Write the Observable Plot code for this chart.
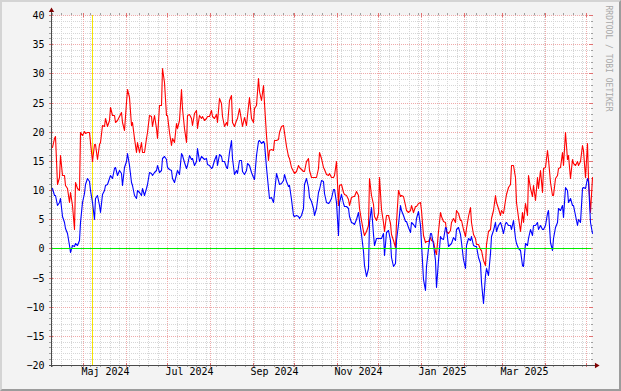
<!DOCTYPE html>
<html><head><meta charset="utf-8">
<script src="https://cdn.jsdelivr.net/npm/d3@7"></script>
<script src="https://cdn.jsdelivr.net/npm/@observablehq/plot@0.6"></script>
<style>
html,body{margin:0;padding:0;background:#f3f3f3;overflow:hidden}
#wrap{width:617px;height:387px;border-style:solid;border-width:2px;border-color:#d4d4d4 #9c9c9c #9c9c9c #d4d4d4;background:#f3f3f3}
#wrap svg{display:block}
</style></head><body><div id="wrap"></div>
<script>
// readings: one sample every ~29.1 h starting at firstSample
const firstSample = "2024-04-08T05:30:00Z";
const sampleStepHours = 29.1;

const maxTemp = [
17.4,18.9,19.2,11.0,12.3,16.0,12.6,12.6,10.9,10.3,
8.0,9.7,7.4,3.4,11.4,10.3,10.0,20.0,19.4,20.1,
19.7,20.0,20.0,18.3,14.9,17.9,17.9,15.4,17.9,18.3,
21.1,20.9,22.3,20.9,22.0,24.3,22.9,22.9,21.7,22.0,
22.6,23.4,21.7,20.3,25.1,27.4,26.0,21.1,21.7,18.9,
16.6,18.3,16.6,18.3,16.6,16.6,18.9,20.0,22.9,22.6,
20.9,22.9,20.6,18.9,24.6,
24.5,31.0,28.5,22.9,22.9,20.0,17.7,18.9,18.3,21.5,
20.6,22.0,27.4,24.0,20.6,18.3,22.9,23.0,22.3,21.1,
23.2,23.7,20.6,22.9,22.3,22.6,22.0,22.3,22.6,22.6,
23.7,22.6,22.3,23.0,21.7,25.7,25.0,22.7,20.9,21.7,
21.1,25.5,26.3,21.7,20.9,22.0,22.3,24.0,22.0,20.9,
22.5,21.1,22.9,26.0,22.3,21.7,24.0,24.5,29.2,26.9,
25.5,28.0,25.0,19.5,15.1,16.9,17.0,16.9,
18.5,18.6,18.8,20.0,21.0,21.2,20.0,17.5,15.8,15.5,
14.0,13.3,13.0,13.2,14.2,14.0,13.6,13.2,13.3,15.0,
15.5,13.5,12.3,12.3,12.2,12.3,13.8,16.5,15.5,14.0,
13.6,12.8,12.5,12.9,12.3,12.2,12.5,14.9,7.4,10.9,
11.0,9.6,9.4,9.2,8.5,7.5,8.8,8.9,9.0,9.8,
9.2,7.0,4.8,2.9,2.3,3.0,4.0,12.0,9.1,7.6,
5.5,4.8,6.0,12.3,6.8,4.5,3.0,
5.8,5.8,4.4,2.5,1.5,0.3,4.5,10.0,9.0,9.2,
8.9,7.5,6.5,6.2,6.5,7.4,6.3,7.3,7.2,7.8,
8.0,6.5,2.3,1.1,1.3,1.3,1.9,1.5,1.3,-0.4,
-0.9,3.0,6.3,5.5,4.7,4.6,3.0,2.6,3.2,4.5,
5.2,4.6,6.6,6.0,4.9,4.9,3.4,2.2,3.5,5.5,
7.1,4.6,2.5,1.8,0.7,0.8,-0.2,-0.3,-2.0,-2.9,
0.8,2.9,3.4,5.2,6.6,
9.1,8.0,6.9,5.7,6.6,6.0,8.3,9.4,10.6,11.1,
14.3,14.3,12.3,8.0,5.4,2.9,6.3,4.6,7.7,5.7,
12.6,10.3,8.9,10.9,8.3,12.3,10.3,13.4,9.7,13.7,
14.0,16.9,15.4,11.4,9.1,9.1,12.0,12.6,13.7,14.0,
16.6,14.3,20.0,15.4,16.0,12.0,15.4,14.6,14.3,14.9,
14.3,14.9,17.7,16.9,12.3,18.0,12.0,6.3,12.3
];

const minTemp = [
10.3,9.1,9.1,7.4,8.0,8.6,5.6,4.6,3.5,2.6,
0.6,-0.6,0.5,0.4,0.9,0.6,1.4,4.5,8.0,9.5,
11.0,12.0,11.5,10.0,8.0,5.1,8.6,9.1,7.4,6.3,
9.4,10.0,10.9,11.1,12.0,12.6,12.0,13.7,14.0,12.6,
13.4,13.0,10.9,14.0,14.9,16.3,14.3,11.4,10.9,9.1,
8.6,10.0,9.7,9.1,10.3,9.1,10.3,11.1,13.1,12.9,
12.6,13.1,13.4,14.3,13.1,
13.5,15.5,15.8,15.3,14.0,13.6,13.4,12.0,11.4,12.8,
13.4,12.8,16.3,16.0,14.8,13.8,14.2,16.0,15.4,15.5,
14.2,14.9,17.2,15.0,15.8,15.7,15.4,15.5,14.4,14.3,
13.8,14.0,15.2,16.0,14.3,16.2,15.8,14.9,14.9,14.0,
13.7,16.6,18.6,15.5,12.8,13.4,12.9,15.2,15.2,13.2,
12.8,13.5,14.6,14.3,13.1,12.3,11.9,16.0,18.4,18.5,
18.1,18.4,18.0,14.0,10.4,8.6,8.8,8.0,
9.5,13.0,11.8,11.1,11.2,11.8,12.8,11.6,10.7,10.8,
8.5,5.8,5.5,5.8,5.5,5.2,5.7,7.0,11.0,12.0,
10.5,8.8,8.1,6.9,5.8,7.0,9.6,10.2,11.8,11.6,
9.5,7.9,7.8,8.0,8.7,10.2,10.2,8.0,2.3,8.0,
9.3,7.8,7.3,7.2,6.9,5.5,4.6,4.4,4.2,5.0,
6.3,4.8,2.5,-0.5,-2.9,-4.8,-3.4,4.5,7.1,2.5,
0.5,1.8,1.7,1.7,1.7,2.6,-1.1,
2.8,3.2,1.4,-1.5,-3.1,-2.5,1.5,4.2,7.5,6.5,
5.7,4.7,4.7,3.7,2.8,4.5,4.1,3.7,5.2,6.4,
4.0,1.0,-5.2,-7.1,-3.0,0.0,2.7,2.7,0.8,-2.0,
-6.6,-2.0,2.2,1.8,1.6,3.6,3.5,0.4,0.8,1.0,
2.0,1.5,3.3,3.7,2.4,1.1,-1.8,-3.4,0.6,1.8,
1.4,2.2,0.6,0.4,0.4,-1.5,-2.6,-5.8,-9.4,-4.6,
-3.4,-4.6,-0.8,2.2,3.1,
4.6,2.9,4.0,4.6,4.0,2.6,4.3,4.6,4.0,4.0,
3.4,4.9,1.7,0.9,0.0,-0.3,-2.9,-3.1,0.9,0.6,
1.7,3.4,2.3,4.0,4.0,4.6,3.4,4.0,3.4,3.4,
4.0,6.0,6.6,1.1,-0.3,1.7,3.7,4.6,6.9,6.6,
7.4,5.4,10.6,10.0,8.0,8.6,7.4,7.4,5.7,4.0,
5.1,4.6,10.3,10.6,10.3,12.0,11.5,4.6,2.6
];

const xStart = "2024-04-07T12:00:00Z";
const xEnd = "2025-05-04T09:00:00Z";
const yTicks = [-20, -15, -10, -5, 0, 5, 10, 15, 20, 25, 30, 35, 40];
const monthLabels = ["Maj 2024", "Jul 2024", "Sep 2024", "Nov 2024", "Jan 2025", "Mar 2025"];
const monthLabelDates = ["2024-05-16T12:00:00Z", "2024-07-16T12:00:00Z", "2024-09-16T12:00:00Z",
                         "2024-11-16T12:00:00Z", "2025-01-16T12:00:00Z", "2025-03-16T12:00:00Z"];
const markerDate = ["2024-05-07T00:00:00Z"];
const zeroLine = [0];
const watermark = ["RRDTOOL / TOBI OETIKER"];

const t0 = new Date(firstSample).getTime();
const step = sampleStepHours * 3600e3;
const rows = maxTemp.map((v, i) => ({t: new Date(t0 + i * step), max: v, min: minTemp[i]}));
const x0 = new Date(xStart), x1 = new Date(xEnd);
const weeks = d3.utcMonday.range(x0, x1);
const months = d3.utcMonth.range(x0, x1);
const minorY = d3.range(-20, 41);

const W = 617, H = 387, mL = 49, mT = 13, mR = 28, mB = 24;
const pw = W - mL - mR, ph = H - mT - mB;
const gridCol = "#d6d6d6", mgridCol = "#efaaaa", axisCol = "#4a4a4a", arrowCol = "#7f0000";

const chart = Plot.plot({
  width: W, height: H,
  marginLeft: mL, marginTop: mT, marginRight: mR, marginBottom: mB,
  style: {background: "transparent", fontFamily: "DejaVu Sans Mono", fontSize: "10px", color: "#000"},
  x: {type: "utc", domain: [x0, x1], round: true, axis: null},
  y: {domain: [-20, 40], round: true, label: null},
  marks: [
    Plot.frame({fill: "white", stroke: "none"}),
    // minor grid
    Plot.ruleY(minorY, {stroke: gridCol, strokeDasharray: "1,1"}),
    Plot.ruleX(weeks, {stroke: gridCol, strokeDasharray: "1,1"}),
    // minor ticks
    Plot.ruleY(minorY, {stroke: "#a0a0a0", insetLeft: -2, insetRight: pw}),
    Plot.ruleY(minorY, {stroke: "#a0a0a0", insetLeft: pw, insetRight: -2}),
    Plot.ruleX(weeks, {stroke: "#a0a0a0", insetTop: ph, insetBottom: -2}),
    Plot.ruleX(weeks, {stroke: "#a0a0a0", insetTop: -2, insetBottom: ph}),
    // major grid
    Plot.ruleY(yTicks, {stroke: mgridCol, strokeDasharray: "1,1"}),
    Plot.ruleX(months, {stroke: mgridCol, strokeDasharray: "1,1"}),
    Plot.ruleY(yTicks, {stroke: "#e07070", insetLeft: -2, insetRight: pw - 2}),
    Plot.ruleY(yTicks, {stroke: "#e07070", insetLeft: pw - 2, insetRight: -2}),
    Plot.ruleX(months, {stroke: "#e07070", insetTop: ph - 2, insetBottom: -2}),
    Plot.ruleX(months, {stroke: "#e07070", insetTop: -2, insetBottom: ph - 2}),
    // vertical marker
    Plot.ruleX(markerDate, {x: d => new Date(d), stroke: "#f6e600", strokeWidth: 1}),
    // data
    Plot.line(rows, {x: "t", y: "max", stroke: "#ff0000", strokeWidth: 1.1}),
    Plot.line(rows, {x: "t", y: "min", stroke: "#0000ff", strokeWidth: 1.1}),
    Plot.ruleY(zeroLine, {stroke: "#00ee00"}),
    // axes
    Plot.ruleX([x0], {stroke: axisCol, insetTop: -6, insetBottom: -2}),
    Plot.ruleY([-20], {stroke: axisCol, insetLeft: -2, insetRight: -4}),
    Plot.dot([0], {frameAnchor: "top-left", dy: -5, symbol: "triangle", r: 2, fill: arrowCol, stroke: "none"}),
    Plot.dot([0], {frameAnchor: "bottom-right", dx: 5, symbol: "triangle", rotate: 90, r: 2, fill: arrowCol, stroke: "none"}),
    Plot.axisY(yTicks, {tickSize: 0, tickPadding: 7, fontSize: 10, fill: "#000"}),
    Plot.text(monthLabelDates, {x: d => new Date(d), text: (d, i) => monthLabels[i], frameAnchor: "bottom", dy: 9, fontSize: 10, fill: "#000"}),
    Plot.text(watermark, {frameAnchor: "top-right", rotate: 90, textAnchor: "start", dx: 20, dy: -10, fontSize: 8, fill: "#a8a8a8"})
  ]
});
document.getElementById("wrap").appendChild(chart);
</script>
</body></html>
